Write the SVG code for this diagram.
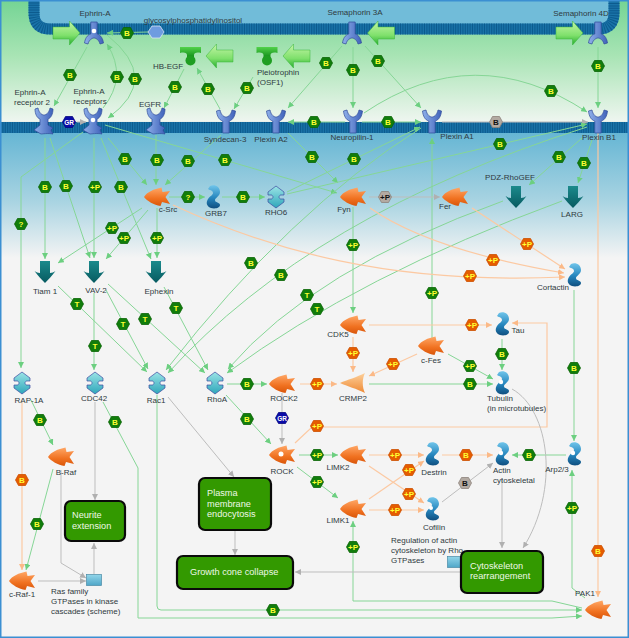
<svg xmlns="http://www.w3.org/2000/svg" width="629" height="638" viewBox="0 0 629 638">
<style>
text{font-family:"Liberation Sans",Arial,sans-serif}
.l{font-size:8px;fill:#2f3a40;text-anchor:middle;dominant-baseline:central}
.s{font-size:8px;fill:#2f3a40;dominant-baseline:central}
.h{font-size:8px;font-weight:bold;fill:#ffff33;text-anchor:middle;dominant-baseline:central}
.k{fill:#111}
.w{fill:#fff;font-size:6.5px}
.bx{fill:#339900;stroke:#0a0a0a;stroke-width:2.2}
.bt{font-size:9.2px;fill:#eef8e6;dominant-baseline:central}
.G,.O,.A{fill:none;stroke-width:1}
.G{stroke:#86d696;marker-end:url(#mg)}
.O{stroke:#fcc9a2;stroke-width:1.2;marker-end:url(#mo)}
.A{stroke:#bdbdbd;marker-end:url(#ma)}
.dot{fill:#fff}
</style>
<defs>
<linearGradient id="gGreen" x1="0" y1="0" x2="0" y2="1"><stop offset="0" stop-color="#74d494"/><stop offset=".45" stop-color="#a8e4b4"/><stop offset="1" stop-color="#f0f6f1"/></linearGradient>
<linearGradient id="gBlue" x1="0" y1="0" x2="0" y2="1"><stop offset="0" stop-color="#66b6d4"/><stop offset=".55" stop-color="#a9d4e2"/><stop offset="1" stop-color="#f4f4f4"/></linearGradient>
<linearGradient id="gArr" x1="0" y1="0" x2="0" y2="1"><stop offset="0" stop-color="#c4f5a6"/><stop offset=".6" stop-color="#7fe06c"/><stop offset="1" stop-color="#25ad2d"/></linearGradient>
<linearGradient id="gRec" x1="0" y1="0" x2="1" y2="0"><stop offset="0" stop-color="#8fb0ea"/><stop offset="1" stop-color="#3f62ba"/></linearGradient>
<linearGradient id="gFish" x1="0" y1="0" x2="0" y2="1"><stop offset="0" stop-color="#ffa766"/><stop offset=".6" stop-color="#f07120"/><stop offset="1" stop-color="#d9560a"/></linearGradient>
<linearGradient id="gCrmp" x1="0" y1="0" x2="0" y2="1"><stop offset="0" stop-color="#fdd09a"/><stop offset="1" stop-color="#ee8a35"/></linearGradient>
<linearGradient id="gSq" x1="0" y1="0" x2="0" y2="1"><stop offset="0" stop-color="#6fc4ea"/><stop offset=".55" stop-color="#2585bd"/><stop offset="1" stop-color="#0f4f80"/></linearGradient>
<linearGradient id="gRho" x1="0" y1="0" x2="0" y2="1"><stop offset="0" stop-color="#9be4e6"/><stop offset="1" stop-color="#2ea6ba"/></linearGradient>
<linearGradient id="gTeal" x1="0" y1="0" x2="0" y2="1"><stop offset="0" stop-color="#1b8a8c"/><stop offset="1" stop-color="#075a60"/></linearGradient>
<linearGradient id="gTee" x1="0" y1="0" x2="0" y2="1"><stop offset="0" stop-color="#52d24a"/><stop offset="1" stop-color="#0f8a18"/></linearGradient>
<linearGradient id="gBox" x1="0" y1="0" x2="0" y2="1"><stop offset="0" stop-color="#92d6ea"/><stop offset="1" stop-color="#4fa6c8"/></linearGradient>
<marker id="mg" markerUnits="userSpaceOnUse" markerWidth="7" markerHeight="6" refX="6" refY="3" orient="auto"><path d="M0,0 L6,3 L0,6 Z" fill="#6ccf80"/></marker>
<marker id="mo" markerUnits="userSpaceOnUse" markerWidth="7" markerHeight="6" refX="6" refY="3" orient="auto"><path d="M0,0 L6,3 L0,6 Z" fill="#fbb987"/></marker>
<marker id="ma" markerUnits="userSpaceOnUse" markerWidth="7" markerHeight="6" refX="6" refY="3" orient="auto"><path d="M0,0 L6,3 L0,6 Z" fill="#b0b0b0"/></marker>
<path id="hexG" d="M-6.5,0 L-3.5,-5.5 H3.5 L6.5,0 L3.5,5.5 H-3.5 Z" fill="#117d0b" stroke="#0a6505" stroke-width=".8"/>
<path id="hexO" d="M-6.5,0 L-3.5,-5.5 H3.5 L6.5,0 L3.5,5.5 H-3.5 Z" fill="#e55c00" stroke="#cc5000" stroke-width=".8"/>
<path id="hexA" d="M-6.5,0 L-3.5,-5.5 H3.5 L6.5,0 L3.5,5.5 H-3.5 Z" fill="#b3aaa2" stroke="#8d837b" stroke-width=".8"/>
<path id="hexB" d="M-6.5,0 L-3.5,-5.5 H3.5 L6.5,0 L3.5,5.5 H-3.5 Z" fill="#0a0aa8" stroke="#06067e" stroke-width=".8"/>
<path id="arR" d="M-13.5,-6 H3 V-12 L13.5,0 L3,12 V6 H-13.5 Z" fill="url(#gArr)" stroke="#39b53a" stroke-width=".5"/>
<path id="arL" d="M13.5,-6 H-3 V-12 L-13.5,0 L-3,12 V6 H13.5 Z" fill="url(#gArr)" stroke="#39b53a" stroke-width=".5"/>
<path id="lig" d="M-3.2,-11 H3.2 V1 C7,2 9,6 9.5,10 L6,11 C5,7 2,5 0,5 C-2,5 -5,7 -6,11 L-9.5,10 C-9,6 -7,2 -3.2,1 Z" fill="url(#gRec)" stroke="#2f4a9a" stroke-width=".7"/>
<path id="rcp" d="M-3.2,11 H3.2 V-1 C7,-2 9,-6 9.5,-11 L6,-12 C5,-7 2,-5 0,-5 C-2,-5 -5,-7 -6,-12 L-9.5,-11 C-9,-6 -7,-2 -3.2,-1 Z" fill="url(#gRec)" stroke="#2f4a9a" stroke-width=".7"/>
<path id="rk" d="M-9,-13 L-6,-14 C-5,-9 -2,-7 0,-7 C2,-7 5,-9 6,-14 L9,-13 C9,-8 7,-4 4,-3 V3 L9,6 L7,8 L9,12 C4,11 -2,12 -3,12 L-10,8 L-4,3 V-3 C-7,-4 -9,-8 -9,-13 Z" fill="url(#gRec)" stroke="#2f4a9a" stroke-width=".7"/>
<path id="fish" d="M-13,0 C-10,-5 -3,-8 4.5,-9.5 L5.5,-5 L13,-6 L8.5,0 L13,7 L5,5 L3.5,9 C-3,8 -10,4 -13,0 Z" fill="url(#gFish)"/>
<path id="crmp" d="M-13,0 C-6,-3 4,-6 12,-10 C9,-4 9,4 12,10 C4,6 -6,3 -13,0 Z" fill="url(#gCrmp)"/>
<path id="sq" d="M-3,-11 C2,-13 7,-10 7,-5 C7,-1 2,1 2,3 C2,6 7,5 7,8 C7,11 2,12 -2,11 C-7,9 -7,5 -5,2 C-3,-1 0,-2 0,-4 C0,-7 -4,-7 -5,-8 Z" fill="url(#gSq)"/>
<path id="rho" d="M0,-11 L8,-5 V-2 H4.5 C2.5,-1 2.5,1 4.5,2 H8 V5 L0,11 L-8,5 V2 H-4.5 C-2.5,1 -2.5,-1 -4.5,-2 H-8 V-5 Z" fill="url(#gRho)" stroke="#3c4aa0" stroke-width=".7"/>
<path id="dn" d="M-5,-11 H5 V1 C7,1 9,0 10.5,-1 C7,4 3,8 0,11 C-3,8 -7,4 -10.5,-1 C-9,0 -7,1 -5,1 Z" fill="url(#gTeal)"/>
<g id="tee"><path d="M-10.5,-8 H10.5 V-2 C6,-3 3.5,-2 3.5,0 V3 H-3.5 V0 C-3.5,-2 -6,-3 -10.5,-2 Z" fill="url(#gTee)"/><circle cx="0" cy="5.5" r="5" fill="#1f9e22"/></g>
<rect id="mini" x="-7.5" y="-5.5" width="15" height="11" fill="url(#gBox)" stroke="#4a8aa6" stroke-width=".7"/>
</defs>

<g id="background">
<rect width="629" height="638" fill="#f4f4f4"/>
<rect width="629" height="123" fill="url(#gGreen)"/>
<path d="M34,0 V13 Q34,29 50,29 H598 Q614,29 614,13 V0 Z" fill="#71bcd9"/>
<rect y="133" width="629" height="125" fill="url(#gBlue)"/>
<g fill="none" stroke-width="11">
<path d="M34,0 V13 Q34,29 50,29 H598 Q614,29 614,13 V0" stroke="#1a73a8"/>
<path d="M34,0 V13 Q34,29 50,29 H598 Q614,29 614,13 V0" stroke="#0c5b8e" stroke-dasharray="1 1.4"/>
<path d="M0,127.5 H629" stroke="#1a73a8"/>
<path d="M0,127.5 H629" stroke="#0c5b8e" stroke-dasharray="1 1.4"/>
</g>
<path d="M0,121.5 H629" stroke="#e8f0ea" stroke-width="1"/>
</g>

<g id="connectors">
<path class="G" d="M87,47 L54,106"/>
<path class="G" d="M103,108 Q128,77 107,44"/>
<path class="G" d="M107,35 Q162,79 108,118"/>
<path class="A" d="M77,122 H86"/>
<path class="G" d="M148,32 L107,33"/>
<path class="G" d="M184,69 L164,108"/>
<path class="G" d="M220,109 L197,68"/>
<path class="G" d="M253,77 L234,109"/>
<path class="G" d="M342,46 L288,108"/>
<path class="G" d="M353,47 V108"/>
<path class="G" d="M365,46 L421,108"/>
<path class="G" d="M598,47 V108"/>
<path class="G" d="M364,113 Q475,38 587,112"/>
<path class="G" d="M345,122 H288"/>
<path class="G" d="M362,122 H421"/>
<path class="A" d="M442,122 H588"/>
<path class="G" d="M288,133 L338,183"/>
<path class="G" d="M105,125 L337,193"/>
<path class="G" d="M287,192 L420,127"/>
<path class="G" d="M287,194 L587,124"/>
<path class="G" d="M421,128 Q290,210 166,370"/>
<path class="G" d="M587,127 Q312,214 168,373"/>
<path class="G" d="M503,201 Q314,269 228,369"/>
<path class="G" d="M562,201 Q360,275 227,373"/>
<path class="G" d="M432,338 V138"/>
<path class="G" d="M353,207 V313"/>
<path class="A" d="M369,197 H440"/>
<path class="O" d="M370,208 Q430,250 564,273"/>
<path class="O" d="M472,208 L565,269"/>
<path class="O" d="M173,205 C270,250 390,285 565,277"/>
<path class="O" d="M369,325 H492"/>
<path class="O" d="M353,337 V372"/>
<path class="O" d="M417,354 L369,376"/>
<path class="G" d="M448,354 L493,379"/>
<path class="G" d="M369,384 H493"/>
<path class="G" d="M502,339 V370"/>
<path class="O" d="M300,384 H337"/>
<path class="G" d="M227,384 H267"/>
<path class="G" d="M226,395 L271,444"/>
<path class="A" d="M282,393 V444"/>
<path class="O" d="M295,443 L312,427 H547 V323 H512"/>
<path class="G" d="M299,455 H338"/>
<path class="G" d="M297,467 L338,498"/>
<path class="O" d="M369,455 H424"/>
<path class="O" d="M369,466 L424,503"/>
<path class="O" d="M369,499 L424,461"/>
<path class="O" d="M369,510 H424"/>
<path class="O" d="M442,455 H493"/>
<path class="A" d="M442,502 L493,463"/>
<path class="G" d="M566,455 H512"/>
<path class="A" d="M502,478 V548"/>
<path class="A" d="M512,389 C550,410 560,490 523,548"/>
<path class="G" d="M574,290 V441"/>
<path class="O" d="M598,133 V597"/>
<path class="G" d="M585,598 L572,588 V470"/>
<path class="G" d="M582,608 L552,601 H353 V521"/>
<path class="G" d="M157,395 V606 Q157,610 161,610 H582"/>
<path class="G" d="M103,402 L138,468 V618 H552 L582,616"/>
<path class="O" d="M22,402 V570"/>
<path class="G" d="M31,400 L53,445"/>
<path class="G" d="M53,469 L26,570"/>
<path class="A" d="M61,470 V563 L86,578"/>
<path class="A" d="M38,581 H86"/>
<path class="A" d="M94,574 V543"/>
<path class="A" d="M95,402 V500"/>
<path class="A" d="M168,397 L234,477"/>
<path class="A" d="M235,531 V555"/>
<path class="A" d="M461,572 H295"/>
<path class="G" d="M45,138 V259"/>
<path class="G" d="M50,138 L90,258"/>
<path class="G" d="M94,138 V258"/>
<path class="G" d="M101,138 L151,259"/>
<path class="G" d="M108,138 L147,185"/>
<path class="G" d="M156,135 V185"/>
<path class="G" d="M221,135 L165,185"/>
<path class="G" d="M83,132 L21,177 V368"/>
<path class="G" d="M142,208 L58,263"/>
<path class="G" d="M148,210 L106,259"/>
<path class="G" d="M157,208 V258"/>
<path class="G" d="M169,197 H205"/>
<path class="G" d="M222,197 H265"/>
<path class="G" d="M58,286 L147,372"/>
<path class="G" d="M94,293 V370"/>
<path class="G" d="M106,290 L148,369"/>
<path class="G" d="M108,284 L205,373"/>
<path class="G" d="M164,287 L208,370"/>
<path class="G" d="M582,138 L529,185"/>
<path class="G" d="M592,140 L578,183"/>
</g>

<g id="nodes">
<g id="ephrin-a"><use href="#lig" x="94" y="33"/><circle class="dot" cx="94" cy="31" r="2.3"/><text class="l" x="95" y="13">Ephrin-A</text></g>
<use id="ephrin-a-arrow" href="#arR" x="66.5" y="33"/>
<g id="gpi"><path d="M148,32 L152,26 H160 L164,32 L160,38 H152 Z" fill="#6e9ce0" stroke="#dbe6f5" stroke-width=".8"/><text class="l" x="193" y="20">glycosylphosphatidylinositol</text></g>
<g id="semaphorin-3a"><use href="#lig" x="352" y="33"/><text class="l" x="355" y="12">Semaphorin 3A</text></g>
<use id="sema3a-arrow" href="#arL" x="381" y="33"/>
<g id="semaphorin-4d"><use href="#lig" x="598" y="33"/><text class="l" x="581" y="13">Semaphorin 4D</text></g>
<use id="sema4d-arrow" href="#arR" x="569.5" y="33"/>
<g id="hb-egf"><use href="#tee" x="190.5" y="55"/><text class="l" x="168" y="66.5">HB-EGF</text></g>
<use id="hbegf-arrow" href="#arL" x="219.5" y="56"/>
<g id="pleiotrophin"><use href="#tee" x="267" y="55"/><text class="s" x="257" y="72">Pleiotrophin</text><text class="s" x="257" y="82">(OSF1)</text></g>
<use id="pleio-arrow" href="#arL" x="296.5" y="56"/>
<g id="epha2"><use href="#rk" x="44" y="122"/><text class="l" x="30" y="92">Ephrin-A</text><text class="l" x="32" y="102">receptor 2</text></g>
<g id="eph-receptors"><use href="#rk" x="93" y="122"/><circle class="dot" cx="93" cy="120" r="2.3"/><text class="l" x="89" y="91">Ephrin-A</text><text class="l" x="90" y="101">receptors</text></g>
<g id="egfr"><use href="#rk" x="156" y="122"/><text class="l" x="150" y="104">EGFR</text></g>
<g id="syndecan-3"><use href="#rcp" x="226" y="122"/><text class="l" x="225" y="139">Syndecan-3</text></g>
<g id="plexin-a2"><use href="#rcp" x="276" y="122"/><text class="l" x="271" y="139">Plexin A2</text></g>
<g id="neuropilin-1"><use href="#rcp" x="353" y="122"/><text class="l" x="352" y="137">Neuropilin-1</text></g>
<g id="plexin-a1"><use href="#rcp" x="432" y="122"/><text class="l" x="457" y="136">Plexin A1</text></g>
<g id="plexin-b1"><use href="#rcp" x="598" y="122"/><text class="l" x="599" y="137">Plexin B1</text></g>
<g id="c-src"><use href="#fish" x="157" y="197"/><text class="l" x="168" y="209">c-Src</text></g>
<g id="grb7"><use href="#sq" x="213" y="197"/><text class="l" x="216" y="213">GRB7</text></g>
<g id="rho6"><use href="#rho" x="276" y="197"/><text class="l" x="276" y="212">RHO6</text></g>
<g id="fyn"><use href="#fish" x="353" y="197"/><text class="l" x="344" y="209">Fyn</text></g>
<g id="fer"><use href="#fish" x="455" y="197"/><text class="l" x="445" y="206">Fer</text></g>
<g id="pdz-rhogef"><use href="#dn" x="516" y="197"/><text class="l" x="510" y="177">PDZ-RhoGEF</text></g>
<g id="larg"><use href="#dn" x="573" y="197"/><text class="l" x="572" y="214">LARG</text></g>
<g id="tiam1"><use href="#dn" x="45" y="272"/><text class="l" x="45" y="291">Tiam 1</text></g>
<g id="vav-2"><use href="#dn" x="94" y="272"/><text class="l" x="96" y="290">VAV-2</text></g>
<g id="ephexin"><use href="#dn" x="156" y="272"/><text class="l" x="159" y="291">Ephexin</text></g>
<g id="cortactin"><use href="#sq" x="574" y="275"/><text class="l" x="553" y="287">Cortactin</text></g>
<g id="cdk5"><use href="#fish" x="353" y="325"/><text class="l" x="338" y="334">CDK5</text></g>
<g id="tau"><use href="#sq" x="502" y="324"/><text class="l" x="518" y="330">Tau</text></g>
<g id="c-fes"><use href="#fish" x="431" y="346"/><text class="l" x="431" y="360">c-Fes</text></g>
<g id="rap-1a"><use href="#rho" x="22" y="383"/><text class="l" x="29" y="400">RAP-1A</text></g>
<g id="cdc42"><use href="#rho" x="95" y="383"/><text class="l" x="94" y="398">CDC42</text></g>
<g id="rac1"><use href="#rho" x="157" y="383"/><text class="l" x="156" y="400">Rac1</text></g>
<g id="rhoa"><use href="#rho" x="215" y="383"/><text class="l" x="217" y="399">RhoA</text></g>
<g id="rock2"><use href="#fish" x="282" y="384"/><text class="l" x="284" y="398">ROCK2</text></g>
<g id="crmp2"><use href="#crmp" x="353" y="383"/><text class="l" x="353" y="398">CRMP2</text></g>
<g id="tubulin"><use href="#sq" x="502" y="383"/><circle class="dot" cx="501" cy="382" r="2.2"/><text class="s" x="487" y="398">Tubulin</text><text class="s" x="487" y="408">(in microtubules)</text></g>
<g id="rock"><use href="#fish" x="282" y="455"/><circle class="dot" cx="281" cy="454" r="2.5"/><text class="l" x="282" y="471">ROCK</text></g>
<g id="limk2"><use href="#fish" x="353" y="455"/><text class="l" x="338" y="467">LIMK2</text></g>
<g id="limk1"><use href="#fish" x="353" y="509"/><text class="l" x="338" y="520">LIMK1</text></g>
<g id="destrin"><use href="#sq" x="432" y="454"/><text class="l" x="434" y="472">Destrin</text></g>
<g id="cofilin"><use href="#sq" x="432" y="509"/><circle class="dot" cx="431" cy="508" r="2"/><text class="l" x="434" y="527">Cofilin</text></g>
<g id="actin"><use href="#sq" x="502" y="454"/><circle class="dot" cx="501" cy="453" r="2.2"/><text class="s" x="493" y="470">Actin</text><text class="s" x="493" y="480">cytoskeletal</text></g>
<g id="arp23"><use href="#sq" x="574" y="454"/><circle class="dot" cx="573" cy="453" r="2.2"/><text class="l" x="557" y="469">Arp2/3</text></g>
<g id="pak1"><use href="#fish" x="598" y="610"/><text class="l" x="585" y="593">PAK1</text></g>
<g id="b-raf"><use href="#fish" x="61" y="457"/><text class="l" x="66" y="472">B-Raf</text></g>
<g id="c-raf-1"><use href="#fish" x="22" y="581"/><text class="l" x="22" y="594">c-Raf-1</text></g>
<g id="ras-scheme"><use href="#mini" x="94" y="580"/><text class="s" x="51" y="591">Ras family</text><text class="s" x="51" y="601">GTPases in kinase</text><text class="s" x="51" y="611">cascades (scheme)</text></g>
<g id="rho-scheme"><use href="#mini" x="455" y="562"/><text class="s" x="391" y="540">Regulation of actin</text><text class="s" x="391" y="550">cytoskeleton by Rho</text><text class="s" x="391" y="560">GTPases</text></g>
<g id="neurite"><rect class="bx" x="65" y="501" width="60" height="40" rx="6"/><text class="bt" x="72" y="515">Neurite</text><text class="bt" x="72" y="526">extension</text></g>
<g id="endocytosis"><rect class="bx" x="199" y="478" width="72" height="52" rx="6"/><text class="bt" x="207" y="493">Plasma</text><text class="bt" x="207" y="504">membrane</text><text class="bt" x="207" y="514">endocytosis</text></g>
<g id="growth-cone"><rect class="bx" x="177" y="556" width="116" height="33" rx="6"/><text class="bt" x="190" y="572">Growth cone collapse</text></g>
<g id="cytoskeleton"><rect class="bx" x="461" y="551" width="82" height="42" rx="6"/><text class="bt" x="470" y="566">Cytoskeleton</text><text class="bt" x="470" y="576">rearrangement</text></g>
</g>

<g id="badges">
<g transform="translate(127,33)"><use href="#hexG"/><text class="h">B</text></g>
<g transform="translate(70,75)"><use href="#hexG"/><text class="h">B</text></g>
<g transform="translate(117,77)"><use href="#hexG"/><text class="h">B</text></g>
<g transform="translate(135,79)"><use href="#hexG"/><text class="h">B</text></g>
<g transform="translate(175,87)"><use href="#hexG"/><text class="h">B</text></g>
<g transform="translate(208,89)"><use href="#hexG"/><text class="h">B</text></g>
<g transform="translate(247,88)"><use href="#hexG"/><text class="h">B</text></g>
<g transform="translate(326,63)"><use href="#hexG"/><text class="h">B</text></g>
<g transform="translate(353,70)"><use href="#hexG"/><text class="h">B</text></g>
<g transform="translate(378,61)"><use href="#hexG"/><text class="h">B</text></g>
<g transform="translate(598,66)"><use href="#hexG"/><text class="h">B</text></g>
<g transform="translate(551,91)"><use href="#hexG"/><text class="h">B</text></g>
<g transform="translate(69,122)"><use href="#hexB"/><text class="h w">GR</text></g>
<g transform="translate(314,122)"><use href="#hexG"/><text class="h">B</text></g>
<g transform="translate(388,122)"><use href="#hexG"/><text class="h">B</text></g>
<g transform="translate(496,122)"><use href="#hexA"/><text class="h k">B</text></g>
<g transform="translate(312,157)"><use href="#hexG"/><text class="h">B</text></g>
<g transform="translate(225,160)"><use href="#hexG"/><text class="h">B</text></g>
<g transform="translate(354,159)"><use href="#hexG"/><text class="h">B</text></g>
<g transform="translate(500,144)"><use href="#hexG"/><text class="h">B</text></g>
<g transform="translate(559,157)"><use href="#hexG"/><text class="h">B</text></g>
<g transform="translate(584,163)"><use href="#hexG"/><text class="h">B</text></g>
<g transform="translate(125,159)"><use href="#hexG"/><text class="h">B</text></g>
<g transform="translate(157,160)"><use href="#hexG"/><text class="h">B</text></g>
<g transform="translate(188,161)"><use href="#hexG"/><text class="h">B</text></g>
<g transform="translate(45,187)"><use href="#hexG"/><text class="h">B</text></g>
<g transform="translate(66,186)"><use href="#hexG"/><text class="h">B</text></g>
<g transform="translate(95,187)"><use href="#hexG"/><text class="h">+P</text></g>
<g transform="translate(121,187)"><use href="#hexG"/><text class="h">B</text></g>
<g transform="translate(188,197)"><use href="#hexG"/><text class="h">?</text></g>
<g transform="translate(243,197)"><use href="#hexG"/><text class="h">B</text></g>
<g transform="translate(385,197)"><use href="#hexA"/><text class="h k">+P</text></g>
<g transform="translate(21,224)"><use href="#hexG"/><text class="h">?</text></g>
<g transform="translate(112,228)"><use href="#hexG"/><text class="h">+P</text></g>
<g transform="translate(124,238)"><use href="#hexG"/><text class="h">+P</text></g>
<g transform="translate(157,238)"><use href="#hexG"/><text class="h">+P</text></g>
<g transform="translate(251,263)"><use href="#hexG"/><text class="h">B</text></g>
<g transform="translate(281,275)"><use href="#hexG"/><text class="h">B</text></g>
<g transform="translate(307,295)"><use href="#hexG"/><text class="h">T</text></g>
<g transform="translate(317,309)"><use href="#hexG"/><text class="h">T</text></g>
<g transform="translate(77,304)"><use href="#hexG"/><text class="h">T</text></g>
<g transform="translate(176,308)"><use href="#hexG"/><text class="h">T</text></g>
<g transform="translate(145,319)"><use href="#hexG"/><text class="h">T</text></g>
<g transform="translate(123,324)"><use href="#hexG"/><text class="h">T</text></g>
<g transform="translate(95,346)"><use href="#hexG"/><text class="h">T</text></g>
<g transform="translate(353,245)"><use href="#hexG"/><text class="h">+P</text></g>
<g transform="translate(432,293)"><use href="#hexG"/><text class="h">+P</text></g>
<g transform="translate(527,244)"><use href="#hexO"/><text class="h">+P</text></g>
<g transform="translate(493,260)"><use href="#hexO"/><text class="h">+P</text></g>
<g transform="translate(470,276)"><use href="#hexO"/><text class="h">+P</text></g>
<g transform="translate(472,325)"><use href="#hexO"/><text class="h">+P</text></g>
<g transform="translate(353,353)"><use href="#hexO"/><text class="h">+P</text></g>
<g transform="translate(393,364)"><use href="#hexO"/><text class="h">+P</text></g>
<g transform="translate(470,366)"><use href="#hexG"/><text class="h">+P</text></g>
<g transform="translate(502,354)"><use href="#hexG"/><text class="h">B</text></g>
<g transform="translate(470,384)"><use href="#hexG"/><text class="h">B</text></g>
<g transform="translate(574,368)"><use href="#hexG"/><text class="h">B</text></g>
<g transform="translate(247,384)"><use href="#hexG"/><text class="h">B</text></g>
<g transform="translate(317,384)"><use href="#hexO"/><text class="h">+P</text></g>
<g transform="translate(247,419)"><use href="#hexG"/><text class="h">B</text></g>
<g transform="translate(282,418)"><use href="#hexB"/><text class="h w">GR</text></g>
<g transform="translate(317,426)"><use href="#hexO"/><text class="h">+P</text></g>
<g transform="translate(40,420)"><use href="#hexG"/><text class="h">B</text></g>
<g transform="translate(115,422)"><use href="#hexG"/><text class="h">B</text></g>
<g transform="translate(317,455)"><use href="#hexG"/><text class="h">+P</text></g>
<g transform="translate(317,482)"><use href="#hexG"/><text class="h">+P</text></g>
<g transform="translate(395,455)"><use href="#hexO"/><text class="h">+P</text></g>
<g transform="translate(409,470)"><use href="#hexO"/><text class="h">+P</text></g>
<g transform="translate(409,494)"><use href="#hexO"/><text class="h">+P</text></g>
<g transform="translate(395,510)"><use href="#hexO"/><text class="h">+P</text></g>
<g transform="translate(466,455)"><use href="#hexO"/><text class="h">B</text></g>
<g transform="translate(465,483)"><use href="#hexA"/><text class="h k">B</text></g>
<g transform="translate(529,455)"><use href="#hexG"/><text class="h">B</text></g>
<g transform="translate(572,508)"><use href="#hexG"/><text class="h">+P</text></g>
<g transform="translate(598,551)"><use href="#hexO"/><text class="h">B</text></g>
<g transform="translate(353,547)"><use href="#hexG"/><text class="h">+P</text></g>
<g transform="translate(22,480)"><use href="#hexO"/><text class="h">B</text></g>
<g transform="translate(37,524)"><use href="#hexG"/><text class="h">B</text></g>
<g transform="translate(273,610)"><use href="#hexG"/><text class="h">B</text></g>
</g>
<rect id="frame" x=".75" y=".75" width="627.5" height="636.5" fill="none" stroke="#3b8fd2" stroke-width="1.5"/>
</svg>
